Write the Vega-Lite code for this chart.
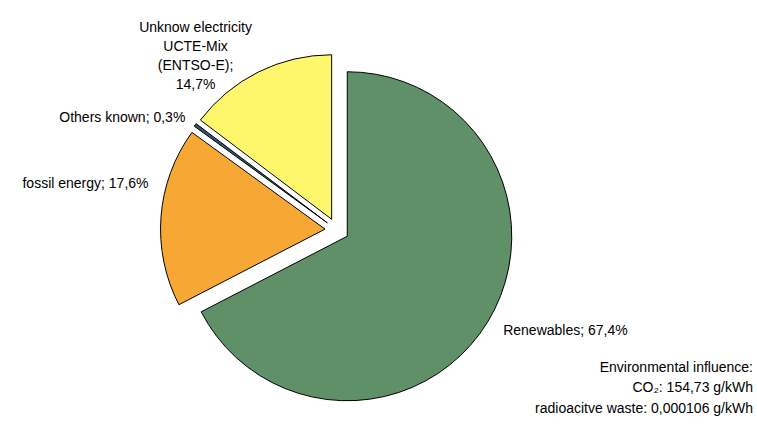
{
  "$schema": "https://vega.github.io/schema/vega-lite/v6.json",
  "width": 674,
  "height": 396,
  "autosize": {"type": "none"},
  "padding": {"left": 0, "top": 32, "right": 83, "bottom": 0},
  "background": "white",
  "view": {"stroke": null},
  "config": {
    "font": "Liberation Sans",
    "text": {"font": "Liberation Sans", "fontSize": 14, "color": "#000000"}
  },
  "title": {
    "text": ["Environmental influence:", "CO₂: 154,73 g/kWh", "radioacitve waste: 0,000106 g/kWh"],
    "orient": "bottom",
    "anchor": "end",
    "frame": "group",
    "offset": 0,
    "font": "Liberation Sans",
    "fontSize": 14,
    "fontWeight": "normal",
    "color": "#000000",
    "lineHeight": 20.3,
    "dx": 79,
    "dy": -67
  },
  "data": {
    "values": [
      {"rank": 1, "source": "Renewables", "share": 67.4, "label": "Renewables; 67,4%"},
      {"rank": 2, "source": "fossil energy", "share": 17.6, "label": "fossil energy; 17,6%"},
      {"rank": 3, "source": "Others known", "share": 0.3, "label": "Others known; 0,3%"},
      {"rank": 4, "source": "Unknow electricity UCTE-Mix (ENTSO-E)", "share": 14.7, "label": "Unknow electricity\nUCTE-Mix\n(ENTSO-E);\n14,7%"}
    ]
  },
  "transform": [
    {"stack": "share", "groupby": [], "sort": [{"field": "rank", "order": "ascending"}], "as": ["start", "end"]},
    {"calculate": "(datum.start + datum.end) / 2", "as": "mid"}
  ],
  "layer": [
    {
      "mark": {
        "type": "arc",
        "outerRadius": 164.5,
        "stroke": "#000000",
        "strokeWidth": 1,
        "xOffset": {"expr": "12 * sin(datum.mid * PI / 50)"},
        "yOffset": {"expr": "-12 * cos(datum.mid * PI / 50)"}
      },
      "encoding": {
        "theta": {"field": "start", "type": "quantitative", "scale": {"domain": [0, 100]}},
        "theta2": {"field": "end"},
        "color": {
          "field": "source",
          "type": "nominal",
          "scale": {
            "domain": ["Renewables", "fossil energy", "Others known", "Unknow electricity UCTE-Mix (ENTSO-E)"],
            "range": ["#609068", "#F7A834", "#33557A", "#FFF76B"]
          },
          "legend": null
        }
      }
    },
    {
      "transform": [{"filter": "datum.rank === 1"}],
      "mark": {"type": "text", "radius": 191, "align": "left", "baseline": "middle", "dx": 3, "dy": 2},
      "encoding": {
        "theta": {"field": "mid", "type": "quantitative"},
        "text": {"field": "label"}
      }
    },
    {
      "transform": [{"filter": "datum.rank === 2"}],
      "mark": {"type": "text", "radius": 189, "align": "right", "baseline": "middle", "dy": -31.5},
      "encoding": {
        "theta": {"field": "mid", "type": "quantitative"},
        "text": {"field": "label"}
      }
    },
    {
      "transform": [{"filter": "datum.rank === 3"}],
      "mark": {"type": "text", "radius": 190, "align": "right", "baseline": "middle", "dx": 1, "dy": 1},
      "encoding": {
        "theta": {"field": "mid", "type": "quantitative"},
        "text": {"field": "label"}
      }
    },
    {
      "transform": [{"filter": "datum.rank === 4"}],
      "mark": {"type": "text", "radius": 194, "align": "center", "baseline": "middle", "dx": -55, "dy": -28.5, "lineBreak": "\n", "lineHeight": 19},
      "encoding": {
        "theta": {"field": "mid", "type": "quantitative"},
        "text": {"field": "label"}
      }
    }
  ]
}
